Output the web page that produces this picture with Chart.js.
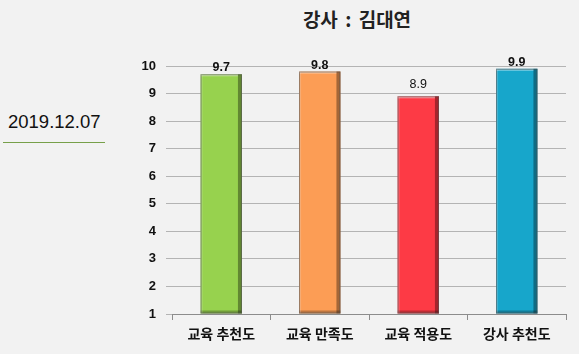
<!DOCTYPE html>
<html>
<head>
<meta charset="utf-8">
<script src="https://cdn.jsdelivr.net/npm/chart.js@4/dist/chart.umd.min.js"></script>
<style>
    body { margin: 0; background: #f2f2f2; width: 579px; height: 354px; overflow: hidden; position: relative; font-family: "Noto Sans CJK KR", "Malgun Gothic", sans-serif; }
    #title { position: absolute; left: 160px; width: 394px; top: 5px; text-align: center; font-size: 19px; font-weight: bold; color: #222; word-spacing: 3px; }
    #date { position: absolute; left: 8px; top: 111px; font-family: "Liberation Sans", Arial, sans-serif; font-size: 18.5px; color: #111; }
    #dateline { position: absolute; left: 3px; top: 142px; width: 102px; height: 0; border-top: 1px solid #77a04a; }
    #wrap { position: absolute; left: 120px; top: 40px; width: 459px; height: 314px; }
</style>
</head>
<body>
<div id="title">강사 : 김대연</div>
<div id="date">2019.12.07</div>
<div id="dateline"></div>
<div id="wrap"><canvas id="myChart"></canvas></div>
<script>
var categories = ['교육 추천도', '교육 만족도', '교육 적용도', '강사 추천도'];
var scores = [9.7, 9.8, 8.9, 9.9];
var yTicks = [1, 2, 3, 4, 5, 6, 7, 8, 9, 10];
var barColors = ['#97d24e', '#fc9d55', '#fd3a45', '#17a6cb'];

// bevel shading on top of the flat bars + value labels
var bevel = {
    id: 'bevel',
    afterDatasetsDraw: function (chart) {
        var ctx = chart.ctx;
        var meta = chart.getDatasetMeta(0);
        meta.data.forEach(function (bar, i) {
            var left = bar.x - bar.width / 2;
            var right = bar.x + bar.width / 2;
            var top = bar.y;
            var bottom = bar.base;
            ctx.save();
            ctx.fillStyle = 'rgba(0,0,0,0.35)';
            ctx.fillRect(right - 4, top, 4, bottom - top); // right side
            ctx.fillStyle = 'rgba(0,0,0,0.25)';
            ctx.fillRect(left, bottom - 3, bar.width, 3); // bottom
            ctx.fillStyle = 'rgba(255,255,255,0.45)';
            ctx.fillRect(left, top, bar.width - 4, 2); // top
            ctx.fillStyle = 'rgba(255,255,255,0.2)';
            ctx.fillRect(left, top, 2, bottom - top); // left
            ctx.strokeStyle = 'rgba(80,80,80,0.6)';
            ctx.lineWidth = 1;
            ctx.strokeRect(left + 0.5, top + 0.5, bar.width - 1, bottom - top - 1);

            var low = scores[i] < 9.5;
            ctx.fillStyle = '#111';
            ctx.font = (low ? '' : 'bold ') + '12.5px "Liberation Sans", Arial, sans-serif';
            ctx.textAlign = 'center';
            ctx.textBaseline = 'bottom';
            ctx.fillText(scores[i].toFixed(1), bar.x, top - (low ? 6 : 0));
            ctx.restore();
        });
    }
};

var ctx = document.getElementById('myChart').getContext('2d');
new Chart(ctx, {
    type: 'bar',
    data: {
        labels: categories,
        datasets: [{
            data: scores,
            base: 1,
            backgroundColor: barColors,
            borderWidth: 0,
            barPercentage: 0.42,
            categoryPercentage: 1
        }]
    },
    options: {
        responsive: true,
        maintainAspectRatio: false,
        animation: false,
        layout: { padding: { top: 26, right: 13, left: 0, bottom: 0 } },
        plugins: {
            legend: { display: false },
            tooltip: { enabled: false }
        },
        scales: {
            x: {
                grid: { drawOnChartArea: false, drawTicks: true, tickLength: 6, color: '#8c8c8c' },
                border: { color: '#8c8c8c' },
                ticks: {
                    color: '#111',
                    padding: 5,
                    font: { family: '"Noto Sans CJK KR", sans-serif', size: 14, weight: 'bold' }
                },
                afterFit: function (scale) { scale.height = 40; }
            },
            y: {
                min: yTicks[0],
                max: yTicks[yTicks.length - 1],
                afterBuildTicks: function (scale) {
                    scale.ticks = yTicks.map(function (v) { return { value: v }; });
                },
                grid: { color: '#b4b4b4', tickLength: 6 },
                border: { display: false },
                ticks: {
                    color: '#111',
                    padding: 10,
                    font: { family: '"Liberation Sans", Arial, sans-serif', size: 13, weight: 'bold' }
                },
                afterFit: function (scale) { scale.width = 52; }
            }
        }
    },
    plugins: [bevel]
});
</script>
</body>
</html>
